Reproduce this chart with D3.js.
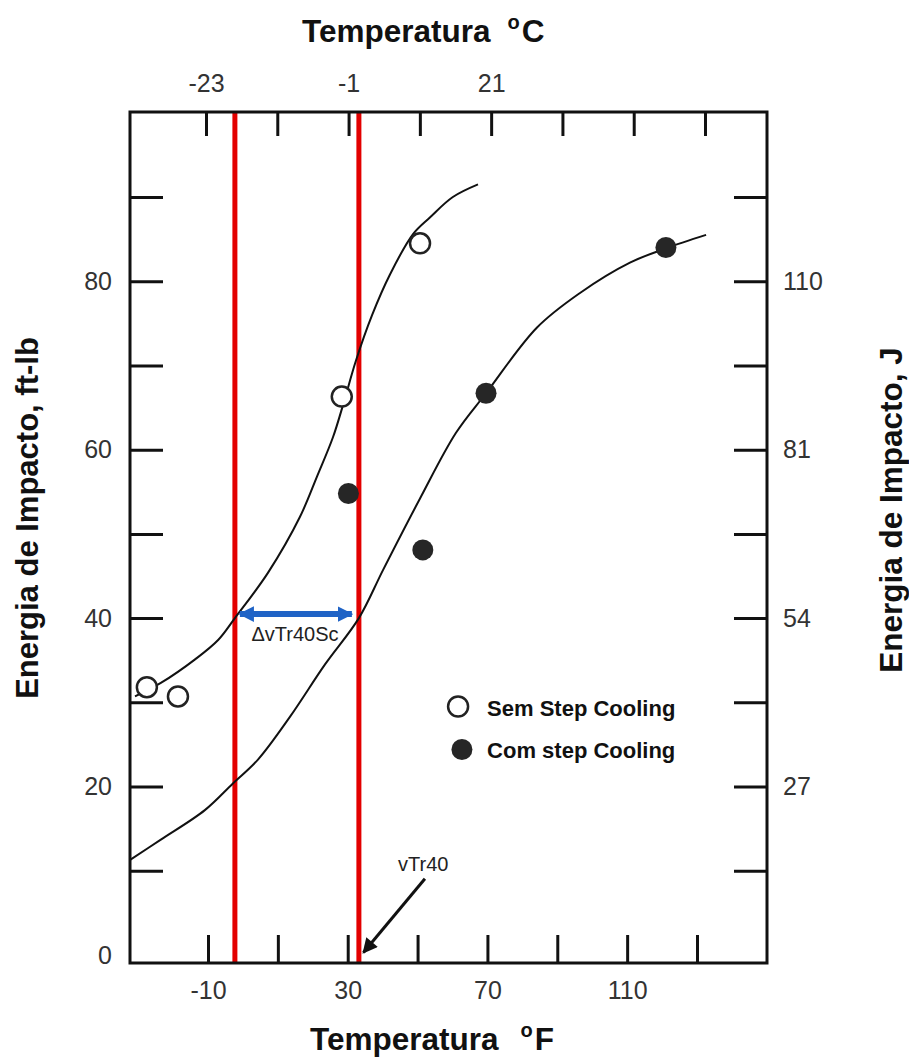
<!DOCTYPE html>
<html>
<head>
<meta charset="utf-8">
<script src="https://cdn.jsdelivr.net/npm/d3@7"></script>
<style>
  body { margin: 0; background: #fff; }
  svg { display: block; font-family: "Liberation Sans", Arial, sans-serif; }
</style>
</head>
<body>
<div id="chart"></div>
<script>
// Tick values
const ticksF = [-10, 10, 30, 50, 70, 90, 110, 130];
const labelsF = [-10, 30, 70, 110];
const ticksC = [-23, -12, -1, 10, 21, 32, 43, 54];
const labelsC = [-23, -1, 21];
const ticksE = [10, 20, 30, 40, 50, 60, 70, 80, 90];
const labelsE = [0, 20, 40, 60, 80];
const labelsJ = ["27", "54", "81", "110"]; // at 20, 40, 60, 80 ft-lb

// Measured points [°F, ft-lb]
const semPoints = [[-27.5, 31.8], [-18.6, 30.7], [28.3, 66.3], [50.7, 84.5]];
const comPoints = [[30.2, 54.8], [51.5, 48.1], [69.6, 66.7], [121.1, 84.0]];

// Fitted curves
const semCurve = [[-30.9, 30.7], [-23.5, 32.3], [-13.7, 35.1], [-7.1, 37.4], [-2.3, 40],
  [7.2, 45.4], [16.3, 52.0], [21.2, 56.8], [25.8, 61.5], [28.8, 65.5], [32.3, 70.5],
  [37, 76], [42.1, 80.8], [48.7, 85.6], [53.6, 87.6], [60.1, 90], [67.3, 91.5]];
const comCurve = [[-32.3, 11.3], [-23.5, 13.7], [-10.9, 17.2], [-2.8, 20.4], [4.3, 23.2],
  [13.5, 28.3], [23.5, 34.5], [33.2, 40], [40.1, 45.7], [50.7, 54.2], [61, 62],
  [69.6, 66.7], [84.2, 74.5], [96.5, 78.6], [110.8, 82.2], [121.1, 83.9], [132.6, 85.5]];

// vTr40 lines (°F)
const redLines = [-2.3, 33.2];
const level = 40;

const w = 909, h = 1059;
const frame = { left: 130, right: 767, top: 112, bottom: 963 };

const x = d3.scaleLinear().domain([-10, 130]).range([208, 697]);
const xC = d3.scaleLinear().domain([-23, 54]).range([206, 705]);
const y = d3.scaleLinear().domain([0, 90]).range([955, 197]);

const svg = d3.select("#chart").append("svg")
  .attr("width", w).attr("height", h);

svg.append("defs").call(defs => {
  defs.append("marker")
    .attr("id", "blueHead")
    .attr("viewBox", "0 0 10 10")
    .attr("refX", 9).attr("refY", 5)
    .attr("markerWidth", 2.6).attr("markerHeight", 3.2)
    .attr("markerUnits", "strokeWidth")
    .attr("orient", "auto-start-reverse")
    .append("path").attr("d", "M0,0L10,5L0,10Z").attr("fill", "#1f63c6");
  defs.append("marker")
    .attr("id", "blackHead")
    .attr("viewBox", "0 0 10 10")
    .attr("refX", 9).attr("refY", 5)
    .attr("markerWidth", 6).attr("markerHeight", 5)
    .attr("markerUnits", "strokeWidth")
    .attr("orient", "auto")
    .append("path").attr("d", "M0,0L10,5L0,10Z").attr("fill", "#111");
});

// Red lines
svg.selectAll(".red")
  .data(redLines)
  .enter()
  .append("line")
  .attr("x1", d => x(d)).attr("x2", d => x(d))
  .attr("y1", frame.top).attr("y2", frame.bottom)
  .attr("stroke", "#e30000")
  .attr("stroke-width", 5);

// Axes: ticks inward
const tickStyle = g => {
  g.select(".domain").remove();
  g.selectAll(".tick line").attr("stroke", "#111").attr("stroke-width", 3);
  g.selectAll("text").attr("fill", "#333").style("font-size", "25px");
};
const plain = d => String(d);

svg.append("g")
  .attr("transform", "translate(0," + frame.bottom + ")")
  .call(d3.axisBottom(x).tickValues(ticksF).tickSize(-28).tickFormat(""))
  .call(tickStyle);
svg.append("g")
  .attr("transform", "translate(0," + frame.bottom + ")")
  .call(d3.axisBottom(x).tickValues(labelsF).tickSize(0).tickPadding(18).tickFormat(plain))
  .call(tickStyle);

svg.append("g")
  .attr("transform", "translate(0," + frame.top + ")")
  .call(d3.axisTop(xC).tickValues(ticksC).tickSize(-24).tickFormat(""))
  .call(tickStyle);
svg.append("g")
  .attr("transform", "translate(0," + frame.top + ")")
  .call(d3.axisTop(xC).tickValues(labelsC).tickSize(0).tickPadding(20).tickFormat(plain))
  .call(tickStyle);

svg.append("g")
  .attr("transform", "translate(" + frame.left + ",0)")
  .call(d3.axisLeft(y).tickValues(ticksE).tickSize(-33).tickFormat(""))
  .call(tickStyle);
svg.append("g")
  .attr("transform", "translate(" + frame.left + ",0)")
  .call(d3.axisLeft(y).tickValues(labelsE).tickSize(0).tickPadding(18).tickFormat(plain))
  .call(tickStyle);

svg.append("g")
  .attr("transform", "translate(" + frame.right + ",0)")
  .call(d3.axisRight(y).tickValues(ticksE).tickSize(-33).tickFormat(""))
  .call(tickStyle);
svg.append("g")
  .attr("transform", "translate(" + frame.right + ",0)")
  .call(d3.axisRight(y).tickValues([20, 40, 60, 80]).tickSize(0).tickPadding(16)
    .tickFormat((d, i) => labelsJ[i]))
  .call(tickStyle);

// Frame
svg.append("rect")
  .attr("x", frame.left).attr("y", frame.top)
  .attr("width", frame.right - frame.left)
  .attr("height", frame.bottom - frame.top)
  .attr("fill", "none")
  .attr("stroke", "#111")
  .attr("stroke-width", 3);

// Curves
const line = d3.line()
  .x(d => x(d[0]))
  .y(d => y(d[1]))
  .curve(d3.curveCatmullRom.alpha(0.5));

[semCurve, comCurve].forEach(c => {
  svg.append("path")
    .attr("d", line(c))
    .attr("fill", "none")
    .attr("stroke", "#111")
    .attr("stroke-width", 2);
});

// Points
svg.selectAll(".sem")
  .data(semPoints)
  .enter()
  .append("circle")
  .attr("cx", d => x(d[0])).attr("cy", d => y(d[1]))
  .attr("r", 10)
  .attr("fill", "#fff")
  .attr("stroke", "#222")
  .attr("stroke-width", 2.5);

svg.selectAll(".com")
  .data(comPoints)
  .enter()
  .append("circle")
  .attr("cx", d => x(d[0])).attr("cy", d => y(d[1]))
  .attr("r", 10.5)
  .attr("fill", "#262626");

// Delta arrow
svg.append("line")
  .attr("x1", x(redLines[0]) + 5).attr("x2", x(redLines[1]) - 7)
  .attr("y1", y(level) - 4).attr("y2", y(level) - 4)
  .attr("stroke", "#1f63c6")
  .attr("stroke-width", 6)
  .attr("marker-start", "url(#blueHead)")
  .attr("marker-end", "url(#blueHead)");

svg.append("text")
  .attr("x", x(14.9)).attr("y", y(37.3))
  .attr("text-anchor", "middle")
  .attr("fill", "#222")
  .style("font-size", "20px")
  .text("\u0394vTr40Sc");

// vTr40 arrow
svg.append("line")
  .attr("x1", x(52.1)).attr("y1", y(9.05))
  .attr("x2", x(34.5)).attr("y2", y(0.3))
  .attr("stroke", "#111")
  .attr("stroke-width", 3)
  .attr("marker-end", "url(#blackHead)");

svg.append("text")
  .attr("x", x(44.4)).attr("y", y(10))
  .attr("fill", "#222")
  .style("font-size", "20px")
  .text("vTr40");

// Legend
const legend = [
  { name: "Sem Step Cooling", open: true, at: [61.6, 29.5] },
  { name: "Com step Cooling", open: false, at: [62.7, 24.4] }
];
legend.forEach(d => {
  svg.append("circle")
    .attr("cx", x(d.at[0])).attr("cy", y(d.at[1]))
    .attr("r", d.open ? 10 : 10.5)
    .attr("fill", d.open ? "#fff" : "#262626")
    .attr("stroke", d.open ? "#222" : "none")
    .attr("stroke-width", 2.5);
  svg.append("text")
    .attr("x", x(69.9)).attr("y", y(d.at[1]) + 9)
    .attr("fill", "#111")
    .style("font-size", "22px")
    .style("font-weight", "bold")
    .text(d.name);
});

// Titles
const title = (tx, ty, gap, unit) => {
  const t = svg.append("text")
    .attr("x", tx).attr("y", ty)
    .attr("fill", "#111")
    .style("font-size", "31.5px")
    .style("font-weight", "bold");
  t.append("tspan").text("Temperatura");
  t.append("tspan").attr("dx", gap).attr("dy", -13).style("font-size", "20px")
    .text("o");
  t.append("tspan").attr("dx", 2).attr("dy", 13).text(unit);
};
title(302, 42, 17, "C");
title(310, 1050, 22, "F");

svg.append("text")
  .attr("transform", "translate(38,518) rotate(-90)")
  .attr("text-anchor", "middle")
  .attr("fill", "#111")
  .style("font-size", "31px")
  .style("font-weight", "bold")
  .text("Energia de Impacto, ft-lb");

svg.append("text")
  .attr("transform", "translate(902,510) rotate(-90)")
  .attr("text-anchor", "middle")
  .attr("fill", "#111")
  .style("font-size", "31.5px")
  .style("font-weight", "bold")
  .text("Energia de Impacto, J");
</script>
</body>
</html>
